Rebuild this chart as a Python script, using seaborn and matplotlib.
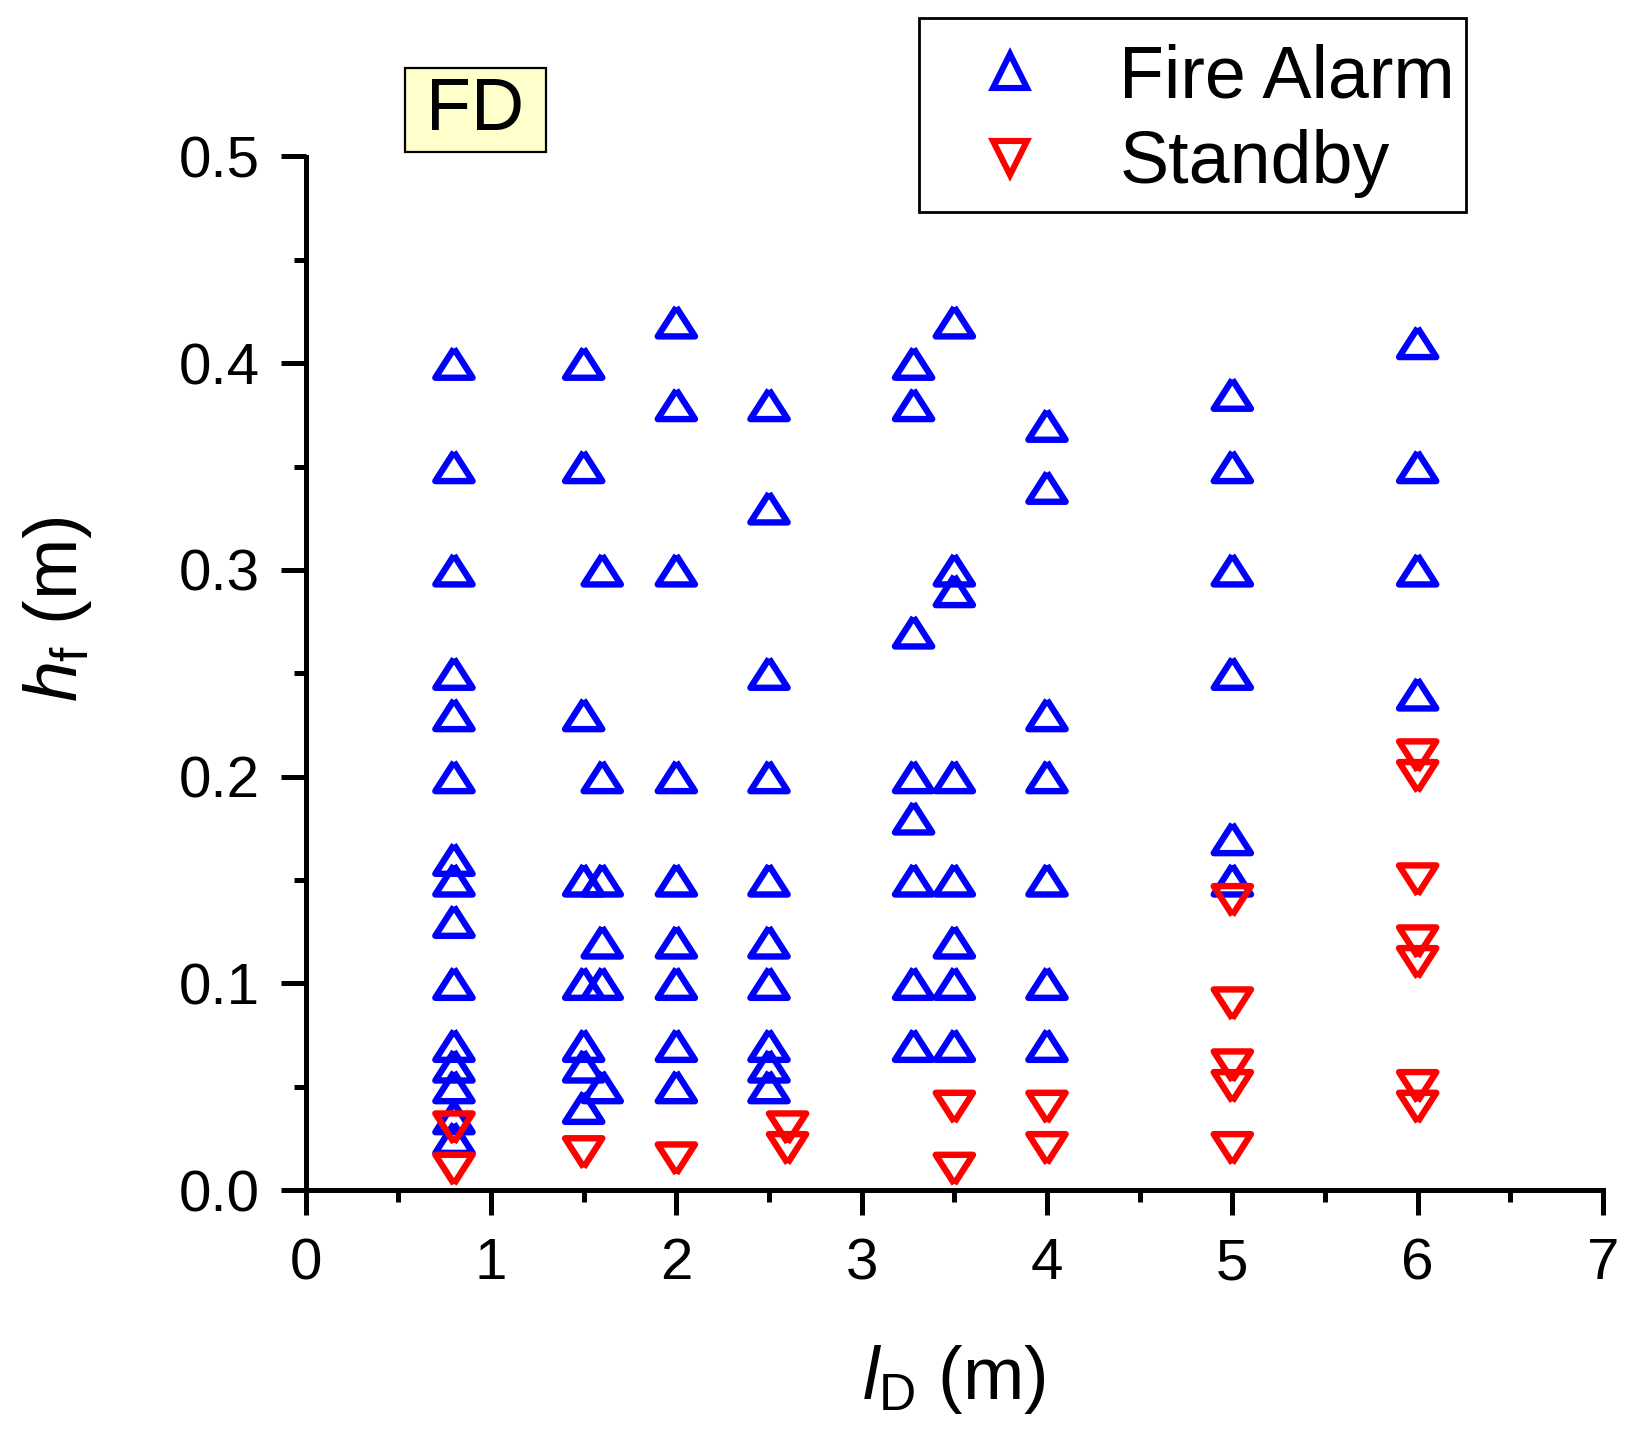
import pandas as pd
import seaborn as sns
import matplotlib.pyplot as plt
from matplotlib.lines import Line2D
from matplotlib.patches import Rectangle
from matplotlib.ticker import MultipleLocator, FormatStrFormatter

# Fire alarm points (l_D in m, h_f in m)
fire_x = ([0.8] * 15 + [1.5] * 8 + [1.6] * 6 + [2.0] * 9 + [2.5] * 10
          + [3.28] * 8 + [3.5] * 8 + [4.0] * 7 + [5.0] * 6 + [6.0] * 4)
fire_y = [0.40, 0.35, 0.30, 0.25, 0.23, 0.20, 0.16, 0.15, 0.13, 0.10, 0.07, 0.06, 0.05, 0.035, 0.025,
          0.40, 0.35, 0.23, 0.15, 0.10, 0.07, 0.06, 0.04,
          0.30, 0.20, 0.15, 0.12, 0.10, 0.05,
          0.42, 0.38, 0.30, 0.20, 0.15, 0.12, 0.10, 0.07, 0.05,
          0.38, 0.33, 0.25, 0.20, 0.15, 0.12, 0.10, 0.07, 0.06, 0.05,
          0.40, 0.38, 0.27, 0.20, 0.18, 0.15, 0.10, 0.07,
          0.42, 0.30, 0.29, 0.20, 0.15, 0.12, 0.10, 0.07,
          0.37, 0.34, 0.23, 0.20, 0.15, 0.10, 0.07,
          0.385, 0.35, 0.30, 0.25, 0.17, 0.15,
          0.41, 0.35, 0.30, 0.24]

# Standby points
standby_x = ([0.8] * 2 + [1.5] + [2.0] + [2.6] * 2 + [3.5] * 2 + [4.0] * 2
             + [5.0] * 5 + [6.0] * 7)
standby_y = [0.03, 0.01,
             0.018,
             0.015,
             0.03, 0.02,
             0.04, 0.01,
             0.04, 0.02,
             0.14, 0.09, 0.06, 0.05, 0.02,
             0.21, 0.20, 0.15, 0.12, 0.11, 0.05, 0.04]

df = pd.concat([
    pd.DataFrame({"lD": fire_x, "hf": fire_y, "state": "Fire Alarm"}),
    pd.DataFrame({"lD": standby_x, "hf": standby_y, "state": "Standby"}),
], ignore_index=True)

colors = {"Fire Alarm": "#0000FF", "Standby": "#FF0000"}
# flattened open triangles like the Origin symbols
tri_up = [(0, 0.78), (-1, -0.78), (1, -0.78), (0, 0.78)]
tri_down = [(0, -0.78), (-1, 0.78), (1, 0.78), (0, -0.78)]
shapes = {"Fire Alarm": tri_up, "Standby": tri_down}

sns.set_style("ticks")
plt.rcParams["font.family"] = ["Liberation Sans", "DejaVu Sans"]
plt.rcParams["mathtext.fontset"] = "custom"
plt.rcParams["mathtext.rm"] = "Liberation Sans"
plt.rcParams["mathtext.it"] = "Liberation Sans:italic"
for key in ["text.color", "axes.labelcolor", "xtick.color", "ytick.color", "axes.edgecolor"]:
    plt.rcParams[key] = "black"

W, H = 1647, 1446
fig = plt.figure(figsize=(W / 100, H / 100), dpi=100)
ax = fig.add_axes([305.7 / W, 1 - 1190 / H, (1603 - 305.7) / W, (1190 - 156.5) / H])

for state, grp in df.groupby("state"):
    sns.scatterplot(data=grp, x="lD", y="hf", ax=ax, marker=shapes[state], s=720,
                    facecolors="none", edgecolor=colors[state], linewidth=4.6,
                    clip_on=False, zorder=3, legend=False)
for coll in ax.collections:
    coll.set_joinstyle("round")

ax.set_xlim(0, 7)
ax.set_ylim(0, 0.5)
ax.xaxis.set_major_locator(MultipleLocator(1))
ax.xaxis.set_minor_locator(MultipleLocator(0.5))
ax.yaxis.set_major_locator(MultipleLocator(0.1))
ax.yaxis.set_minor_locator(MultipleLocator(0.05))
ax.yaxis.set_major_formatter(FormatStrFormatter("%.1f"))
sns.despine(ax=ax)
for sp in ["left", "bottom"]:
    ax.spines[sp].set_linewidth(3.6)
ax.tick_params(which="major", direction="out", length=18, width=3.6, labelsize=42)
ax.tick_params(which="minor", direction="out", length=8.5, width=3.6)
ax.tick_params(axis="y", which="major", pad=15)
ax.tick_params(axis="x", which="major", pad=16)

ax.set_xlabel(r"$\mathit{l}_\mathrm{D}$ (m)", fontsize=53)
ax.set_ylabel(r"$\mathit{h}_\mathrm{f}$ (m)", fontsize=53)
ax.xaxis.set_label_coords(0.5, -0.148)
ax.yaxis.set_label_coords(-0.163, 0.562)

# legend frame drawn separately so the entries can sit where the original has them
ax.add_patch(Rectangle((919 / W, 1 - 212 / H), 547 / W, 194 / H, transform=fig.transFigure,
                       facecolor="white", edgecolor="black", linewidth=2,
                       clip_on=False, zorder=4.5))
handles = [Line2D([], [], ls="none", marker="^", ms=24, mfc="none", mec=colors["Fire Alarm"], mew=4.4),
           Line2D([], [], ls="none", marker="v", ms=24, mfc="none", mec=colors["Standby"], mew=4.4)]
leg = ax.legend(handles, ["Fire Alarm", "Standby"], loc="upper right",
                bbox_to_anchor=(1455 / W, 1 - 43 / H), bbox_transform=fig.transFigure,
                borderaxespad=0, borderpad=0, labelspacing=0.237, handlelength=2.2,
                handletextpad=0.38, fontsize=53, frameon=False)
leg.set_zorder(5)

# "FD" tag box
fig.add_artist(Rectangle((405 / W, 1 - 152 / H), 141 / W, 84 / H, transform=fig.transFigure,
                         facecolor="#FFFFCC", edgecolor="black", linewidth=1.6))
fig.text(475.5 / W, 1 - 110 / H, "FD", ha="center", va="center", fontsize=53)

plt.savefig("out.png", dpi=100)
